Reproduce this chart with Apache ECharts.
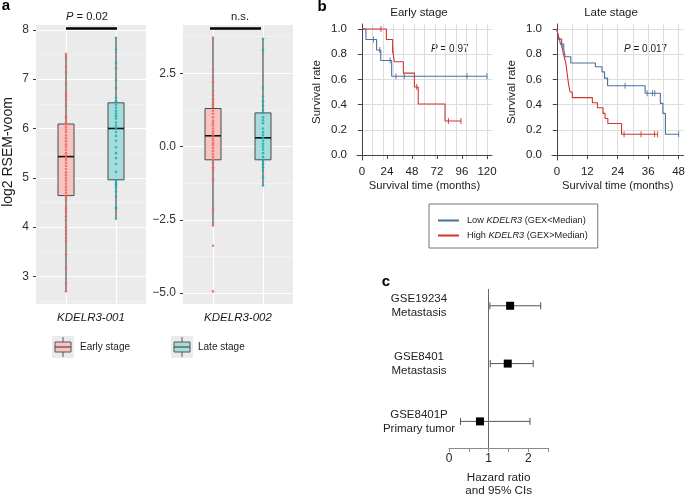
<!DOCTYPE html>
<html><head><meta charset="utf-8">
<script src="https://cdn.jsdelivr.net/npm/echarts@6/dist/echarts.min.js"></script>
<style>html,body{margin:0;padding:0;background:#fff}#c{width:688px;height:498px}</style>
</head><body><div id="c"></div>
<script>
// ===================== DATA =====================
// Panel a : boxplots (stats: [lower whisker, Q1, median, Q3, upper whisker])
const genes = ['KDELR3-001', 'KDELR3-002'];
const stages = ['Early stage', 'Late stage'];
const box001Early = [2.70, 4.64, 5.43, 6.09, 7.51];
const box001Late  = [4.17, 4.96, 6.00, 6.52, 7.84];
const box002Early = [-2.69, -0.45, 0.37, 1.30, 3.72];
const box002Late  = [-1.33, -0.45, 0.30, 1.15, 3.68];
const pts001Early = [7.51, 7.44, 7.25, 7.13, 6.91, 6.72, 6.66, 6.58, 6.46, 6.25, 6.21, 6.12, 6.08, 6.03, 5.98, 5.93,
  5.86, 5.80, 5.74, 5.68, 5.63, 5.57, 5.50, 5.45, 5.41, 5.36, 5.30, 5.24, 5.18, 5.11, 5.05, 4.99, 4.94, 4.88, 4.82,
  4.76, 4.70, 4.64, 4.60, 4.55, 4.42, 4.37, 4.32, 4.22, 4.14, 4.00, 3.92, 3.85, 3.78, 3.72, 3.45, 3.16, 2.86, 2.70];
const pts001Late = [7.84, 7.60, 7.33, 7.22, 6.98, 6.82, 6.62, 6.55, 6.48, 6.42, 6.36, 6.30, 6.25, 6.20, 6.12, 6.06,
  6.00, 5.93, 5.85, 5.75, 5.62, 5.50, 5.40, 5.28, 5.12, 4.95, 4.90, 4.87, 4.84, 4.80, 4.72, 4.62, 4.40, 4.38, 4.17];
const pts002Early = [3.72, 2.62, 2.35, 2.20, 1.90, 1.75, 1.62, 1.52, 1.45, 1.35, 1.22, 1.12, 1.00, 0.88, 0.80, 0.72,
  0.62, 0.52, 0.44, 0.37, 0.30, 0.22, 0.12, 0.05, -0.05, -0.15, -0.25, -0.35, -0.45, -0.55, -0.70, -0.75, -0.82,
  -1.10, -1.15, -2.10, -2.20, -2.69, -3.38, -4.94];
const pts002Late = [3.68, 3.30, 2.00, 1.70, 1.55, 1.40, 1.25, 1.15, 1.00, 0.90, 0.80, 0.62, 0.50, 0.40, 0.30, 0.20,
  0.10, 0.00, -0.10, -0.22, -0.35, -0.45, -0.52, -0.60, -0.70, -0.82, -1.05, -1.33];
const a1Ticks = [3, 4, 5, 6, 7, 8];
const a1Minor = [2.5, 3.5, 4.5, 5.5, 6.5, 7.5];
const a2Ticks = [-5, -2.5, 0, 2.5];
const a2Minor = [-3.75, -1.25, 1.25, 3.75];

// Panel b : Kaplan-Meier curves (time in months, survival)
const earlyLowT  = [0, 3.8, 14, 18, 28.5, 120];
const earlyLowS  = [1, 0.917, 0.833, 0.75, 0.625, 0.625];
const earlyLowCensT = [11, 17, 27, 32.6, 40.6, 100.8, 120];
const earlyLowCensS = [0.917, 0.833, 0.75, 0.625, 0.625, 0.625, 0.625];
const earlyHighT = [0, 23.4, 29.4, 31, 39.7, 50.3, 54, 79.7, 95];
const earlyHighS = [1, 0.917, 0.833, 0.74, 0.65, 0.54, 0.405, 0.27, 0.27];
const earlyHighCensT = [18.2, 29.5, 52.5, 83, 95];
const earlyHighCensS = [1, 0.833, 0.54, 0.27, 0.27];
const lateLowT = [0, 0.4, 1.0, 1.4, 2.7, 3.3, 5.5, 15.2, 17.8, 18.8, 20.0, 34.8, 40.8, 41.8, 42.8, 48];
const lateLowS = [1, 0.96, 0.92, 0.88, 0.84, 0.78, 0.73, 0.70, 0.66, 0.61, 0.55, 0.49, 0.41, 0.33, 0.165, 0.165];
const lateLowCensT = [1.8, 26.9, 35.6, 37.7, 38.6, 48];
const lateLowCensS = [0.88, 0.55, 0.49, 0.49, 0.49, 0.165];
const lateHighT = [0, 0.4, 0.6, 1.9, 2.3, 2.7, 3.3, 3.7, 3.9, 4.2, 4.5, 4.8, 5.2, 6.1, 14.0, 16.0, 18.2, 19.0, 20.1, 25.5, 39.7];
const lateHighS = [1, 0.96, 0.92, 0.88, 0.83, 0.79, 0.75, 0.71, 0.67, 0.625, 0.58, 0.54, 0.50, 0.455, 0.415, 0.375, 0.33, 0.29, 0.25, 0.165, 0.165];
const lateHighCensT = [26.5, 33.2, 38.5, 39.7];
const lateHighCensS = [0.165, 0.165, 0.165, 0.165];
const earlyXTicks = [0, 24, 48, 72, 96, 120];
const lateXTicks = [0, 12, 24, 36, 48];
const earlyGridX = [0, 10, 20, 30, 40, 50, 60, 70, 80, 90, 100, 110, 120];
const lateGridX = [0, 6, 12, 18, 24, 30, 36, 42, 48];
const survTicks = [0, 0.2, 0.4, 0.6, 0.8, 1.0];

// Panel c : forest plot
const forestLabels = ['GSE19234\nMetastasis', 'GSE8401\nMetastasis', 'GSE8401P\nPrimary tumor'];
const hazardRatio = [1.54, 1.48, 0.78];
const ciLow = [1.03, 1.04, 0.29];
const ciHigh = [2.31, 2.12, 2.04];
const hrTicks = [0, 0.5, 1, 1.5, 2, 2.5];
const hrLabels = [0, 1, 2];

// ===================== STYLE =====================
const FONT = 'Liberation Sans, Arial, sans-serif';
const TXT = '#1a1a1a';
const RED_PT = '#F0665E', TEAL_PT = '#12B3B6';
const BOX_FILL = ['#F6C5C1', '#A7DCDD'];
const KM_BLUE = '#4A6FA0', KM_RED = '#D0342C';

function renderBox(params, api) {
  const x = api.value(0);
  const lo = api.coord([x, api.value(1)]);
  const q1 = api.coord([x, api.value(2)]);
  const med = api.coord([x, api.value(3)]);
  const q3 = api.coord([x, api.value(4)]);
  const hi = api.coord([x, api.value(5)]);
  const hw = api.size([0.32, 0])[0] / 2;
  return { type: 'group', children: [
    { type: 'line', shape: { x1: lo[0], y1: lo[1], x2: q1[0], y2: q1[1] }, style: { stroke: '#5a5a5a', lineWidth: 1.3 } },
    { type: 'line', shape: { x1: q3[0], y1: q3[1], x2: hi[0], y2: hi[1] }, style: { stroke: '#5a5a5a', lineWidth: 1.3 } },
    { type: 'rect', shape: { x: q1[0] - hw, y: q3[1], width: 2 * hw, height: q1[1] - q3[1] },
      style: { fill: BOX_FILL[params.dataIndex], stroke: '#4a4a4a', lineWidth: 1 } },
    { type: 'line', shape: { x1: med[0] - hw, y1: med[1], x2: med[0] + hw, y2: med[1] }, style: { stroke: '#111', lineWidth: 1.6 } }
  ]};
}

function renderForest(params, api) {
  const y = api.value(0);
  const a = api.coord([api.value(1), y]);
  const m = api.coord([api.value(2), y]);
  const b = api.coord([api.value(3), y]);
  const c = { stroke: '#555', lineWidth: 1 };
  return { type: 'group', children: [
    { type: 'line', shape: { x1: a[0], y1: a[1], x2: b[0], y2: b[1] }, style: c },
    { type: 'line', shape: { x1: a[0], y1: a[1] - 3.5, x2: a[0], y2: a[1] + 3.5 }, style: c },
    { type: 'line', shape: { x1: b[0], y1: b[1] - 3.5, x2: b[0], y2: b[1] + 3.5 }, style: c },
    { type: 'rect', shape: { x: m[0] - 4, y: m[1] - 4, width: 8, height: 8 }, style: { fill: '#000' } }
  ]};
}

function pair(t, s) { return t.map((v, i) => [v, s[i]]); }
function minusFmt(v) { return (v < 0 ? '\u2212' : '') + Math.abs(v).toFixed(1); }

function ggX(grid, name) {
  return { gridIndex: grid, type: 'value', min: 0.4, max: 2.6,
    axisLine: { show: false }, axisTick: { show: false, customValues: [1, 2] }, axisLabel: { show: false },
    splitLine: { show: true, lineStyle: { color: '#fff', width: 1.1 } },
    name: name, nameLocation: 'middle', nameGap: 8,
    nameTextStyle: { fontStyle: 'italic', fontSize: 11.5, color: TXT, fontFamily: FONT, verticalAlign: 'top' } };
}
function ggY(grid, min, max, ticks, fmt) {
  return { gridIndex: grid, type: 'value', min: min, max: max,
    axisLine: { show: false },
    axisTick: { show: true, length: 3, lineStyle: { color: '#333' }, customValues: ticks },
    axisLabel: { customValues: ticks, formatter: fmt, fontSize: 12, color: '#333', margin: 7, fontFamily: FONT },
    splitLine: { show: true, lineStyle: { color: '#fff', width: 1.1 } } };
}
function ggMinor(grid, min, max, vals) {
  return { gridIndex: grid, type: 'value', min: min, max: max, position: 'left',
    axisLine: { show: false }, axisTick: { show: false, customValues: vals }, axisLabel: { show: false },
    splitLine: { show: true, lineStyle: { color: '#f7f7f7', width: 0.6 } } };
}
function kmX(grid, min, max, ticks) {
  return { gridIndex: grid, type: 'value', min: min, max: max,
    axisLine: { show: true, lineStyle: { color: '#444', width: 1 } },
    axisTick: { show: true, length: 4, lineStyle: { color: '#444' }, customValues: ticks },
    axisLabel: { customValues: ticks, fontSize: 11.5, color: '#222', margin: 6, fontFamily: FONT },
    splitLine: { show: false },
    name: 'Survival time (months)', nameLocation: 'middle', nameGap: 20,
    nameTextStyle: { fontSize: 11.2, color: '#222', fontFamily: FONT, verticalAlign: 'top' } };
}
function kmGridX(grid, min, max, vals) {
  return { gridIndex: grid, type: 'value', min: min, max: max, position: 'top',
    axisLine: { show: false }, axisTick: { show: false, customValues: vals }, axisLabel: { show: false },
    splitLine: { show: true, lineStyle: { color: '#dddddd', width: 1 } } };
}
function kmY(grid) {
  return { gridIndex: grid, type: 'value', min: -0.04, max: 1.04,
    axisLine: { show: true, lineStyle: { color: '#444', width: 1 } },
    axisTick: { show: true, length: 4, lineStyle: { color: '#444' }, customValues: survTicks },
    axisLabel: { customValues: survTicks, formatter: v => v.toFixed(1), fontSize: 11.5, color: '#222', margin: 10, fontFamily: FONT },
    splitLine: { show: false },
    name: 'Survival rate', nameLocation: 'middle', nameGap: 34, nameRotate: 90,
    nameTextStyle: { fontSize: 11.5, color: '#222', fontFamily: FONT } };
}
function kmGridY(grid) {
  return { gridIndex: grid, type: 'value', min: -0.04, max: 1.04, position: 'right',
    axisLine: { show: false }, axisTick: { show: false, customValues: survTicks }, axisLabel: { show: false },
    splitLine: { show: true, lineStyle: { color: '#dddddd', width: 1 } } };
}

const series = [];
// panel a
[[box001Early, box001Late, pts001Early, pts001Late], [box002Early, box002Late, pts002Early, pts002Late]].forEach((g, gi) => {
  const xi = gi, yi = gi * 2;
  series.push({ type: 'custom', xAxisIndex: xi, yAxisIndex: yi, renderItem: renderBox, z: 2,
    encode: { x: 0, y: [1, 2, 3, 4, 5] },
    data: [[1].concat(g[0]), [2].concat(g[1])] });
  series.push({ type: 'scatter', xAxisIndex: xi, yAxisIndex: yi, symbol: 'circle', symbolSize: 2.6, z: 3,
    itemStyle: { color: RED_PT, opacity: 0.85 }, data: g[2].map(v => [1, v]) });
  series.push({ type: 'scatter', xAxisIndex: xi, yAxisIndex: yi, symbol: 'circle', symbolSize: 2.6, z: 3,
    itemStyle: { color: TEAL_PT, opacity: 0.85 }, data: g[3].map(v => [2, v]) });
});
// panel b
function kmLine(name, color, xi, yi, t, s) {
  return { type: 'line', name: name, xAxisIndex: xi, yAxisIndex: yi, step: 'end', showSymbol: false, symbol: 'none',
    lineStyle: { color: color, width: 1.1 }, itemStyle: { color: color }, z: 3, data: pair(t, s) };
}
function kmCens(color, xi, yi, t, s) {
  return { type: 'scatter', xAxisIndex: xi, yAxisIndex: yi, symbol: 'rect', symbolSize: [1.1, 6], z: 4,
    itemStyle: { color: color }, data: pair(t, s) };
}
series.push(kmLine('Low', KM_BLUE, 2, 4, earlyLowT, earlyLowS));
series.push(kmLine('High', KM_RED, 2, 4, earlyHighT, earlyHighS));
series.push(kmCens(KM_BLUE, 2, 4, earlyLowCensT, earlyLowCensS));
series.push(kmCens(KM_RED, 2, 4, earlyHighCensT, earlyHighCensS));
series.push(kmLine('Low', KM_BLUE, 4, 6, lateLowT, lateLowS));
series.push(kmLine('High', KM_RED, 4, 6, lateHighT, lateHighS));
series.push(kmCens(KM_BLUE, 4, 6, lateLowCensT, lateLowCensS));
series.push(kmCens(KM_RED, 4, 6, lateHighCensT, lateHighCensS));
// panel c
series.push({ type: 'custom', xAxisIndex: 6, yAxisIndex: 8, renderItem: renderForest, z: 3,
  encode: { x: [1, 2, 3], y: 0 },
  data: forestLabels.map((l, i) => [forestLabels.length - i, ciLow[i], hazardRatio[i], ciHigh[i]]),
  markLine: { silent: true, symbol: 'none', label: { show: false },
    lineStyle: { color: '#666', width: 1, type: 'solid' }, data: [{ xAxis: 1 }] } });

function legendKey(x, y, fill) {
  return { type: 'group', x: x, y: y, children: [
    { type: 'rect', shape: { x: 0, y: 0, width: 22, height: 22 }, style: { fill: '#EBEBEB' } },
    { type: 'line', shape: { x1: 11, y1: 1, x2: 11, y2: 6 }, style: { stroke: '#555', lineWidth: 1 } },
    { type: 'line', shape: { x1: 11, y1: 16, x2: 11, y2: 21 }, style: { stroke: '#555', lineWidth: 1 } },
    { type: 'rect', shape: { x: 3, y: 6, width: 16, height: 10 }, style: { fill: fill, stroke: '#555', lineWidth: 1 } },
    { type: 'line', shape: { x1: 3, y1: 11, x2: 19, y2: 11 }, style: { stroke: '#333', lineWidth: 1 } }
  ]};
}
function txt(x, y, text, size, extra) {
  return { type: 'text', x: x, y: y, style: Object.assign({ text: text, fontSize: size, fontFamily: FONT, fill: TXT,
    align: 'center', verticalAlign: 'middle' }, extra || {}) };
}

const option = {
  animation: false,
  textStyle: { fontFamily: FONT },
  grid: [
    { left: 36, top: 25, width: 110, height: 279, show: true, backgroundColor: '#EBEBEB', borderWidth: 0 },
    { left: 183, top: 25, width: 110, height: 279, show: true, backgroundColor: '#EBEBEB', borderWidth: 0 },
    { left: 357, top: 24, width: 135, height: 136 },
    { left: 552, top: 24, width: 136, height: 136 },
    { left: 449, top: 289, width: 99.25, height: 162 }
  ],
  xAxis: [
    ggX(0, genes[0]),
    ggX(1, genes[1]),
    kmX(2, -4.8, 124.8, earlyXTicks),
    kmGridX(2, -4.8, 124.8, earlyGridX),
    kmX(3, -1.92, 49.92, lateXTicks),
    kmGridX(3, -1.92, 49.92, lateGridX),
    { gridIndex: 4, type: 'value', min: 0, max: 2.5,
      axisLine: { show: true, lineStyle: { color: '#8a8a8a', width: 1 } },
      axisTick: { show: true, length: 4, lineStyle: { color: '#8a8a8a' }, customValues: hrTicks },
      axisLabel: { customValues: hrLabels, fontSize: 12, color: '#222', margin: 5, fontFamily: FONT },
      splitLine: { show: false },
      name: 'Hazard ratio\nand 95% CIs', nameLocation: 'middle', nameGap: 23,
      nameTextStyle: { fontSize: 11.7, color: '#222', lineHeight: 13, fontFamily: FONT, verticalAlign: 'top' } }
  ],
  yAxis: [
    ggY(0, 2.443, 8.097, a1Ticks, v => String(v)),
    ggMinor(0, 2.443, 8.097, a1Minor),
    ggY(1, -5.37, 4.15, a2Ticks, minusFmt),
    ggMinor(1, -5.37, 4.15, a2Minor),
    kmY(2),
    kmGridY(2),
    kmY(3),
    kmGridY(3),
    { gridIndex: 4, type: 'value', min: 0.54, max: 3.29,
      axisLine: { show: false }, axisTick: { show: false, customValues: [1, 2, 3] },
      axisLabel: { customValues: [1, 2, 3], formatter: v => forestLabels[forestLabels.length - v],
        align: 'center', margin: 30, fontSize: 11.5, lineHeight: 14, color: '#222', fontFamily: FONT },
      splitLine: { show: false } }
  ],
  legend: {
    data: ['Low', 'High'], orient: 'vertical', left: 429, top: 204, selectedMode: false,
    padding: [12, 10, 8, 9], itemGap: 6, itemWidth: 21, itemHeight: 2, icon: 'rect',
    borderColor: '#777', borderWidth: 1, borderRadius: 0,
    formatter: n => n === 'Low' ? '{n|Low }{i|KDELR3}{n| (GEX<Median)}' : '{n|High }{i|KDELR3}{n| (GEX>Median)}',
    textStyle: { fontSize: 9.2, color: '#222', fontFamily: FONT, padding: [0, 0, 0, 3],
      rich: { n: { fontSize: 9.2, fontFamily: FONT, color: '#222' }, i: { fontSize: 9.2, fontStyle: 'italic', fontFamily: FONT, color: '#222' } } }
  },
  graphic: [
    txt(6, 6, 'a', 15, { fontWeight: 'bold', fill: '#000' }),
    txt(322, 7, 'b', 15, { fontWeight: 'bold', fill: '#000' }),
    txt(386, 282, 'c', 15, { fontWeight: 'bold', fill: '#000' }),
    { type: 'text', x: 8, y: 152, rotation: Math.PI / 2,
      style: { text: 'log2 RSEM-voom', fontSize: 14, fontFamily: FONT, fill: TXT, align: 'center', verticalAlign: 'middle' } },
    { type: 'text', x: 87, y: 17, style: { text: '{i|P} = 0.02', fontSize: 11.2, fontFamily: FONT, fill: TXT, align: 'center', verticalAlign: 'middle',
      rich: { i: { fontStyle: 'italic', fontSize: 11.2, fontFamily: FONT, fill: TXT } } } },
    { type: 'line', shape: { x1: 66, y1: 28.5, x2: 117, y2: 28.5 }, style: { stroke: '#000', lineWidth: 2.6 }, z: 10 },
    txt(240, 17, 'n.s.', 11.2),
    { type: 'line', shape: { x1: 210, y1: 28.5, x2: 261, y2: 28.5 }, style: { stroke: '#000', lineWidth: 2.6 }, z: 10 },
    legendKey(52, 336, BOX_FILL[0]),
    txt(80, 347, stages[0], 10, { align: 'left' }),
    legendKey(171, 336, BOX_FILL[1]),
    txt(198, 347, stages[1], 10, { align: 'left' }),
    txt(419, 13, 'Early stage', 11.5),
    txt(611, 13, 'Late stage', 11.5),
    { type: 'text', x: 431, y: 49, style: { text: '{i|P} = 0.97', fontSize: 10, fontFamily: FONT, fill: TXT, verticalAlign: 'middle',
      rich: { i: { fontStyle: 'italic', fontSize: 10, fontFamily: FONT, fill: TXT } } } },
    { type: 'text', x: 624, y: 49, style: { text: '{i|P} = 0.017', fontSize: 10, fontFamily: FONT, fill: TXT, verticalAlign: 'middle',
      rich: { i: { fontStyle: 'italic', fontSize: 10, fontFamily: FONT, fill: TXT } } } }
  ],
  series: series
};

const chart = echarts.init(document.getElementById('c'), null, { renderer: 'canvas' });
chart.setOption(option);
</script>
</body></html>
